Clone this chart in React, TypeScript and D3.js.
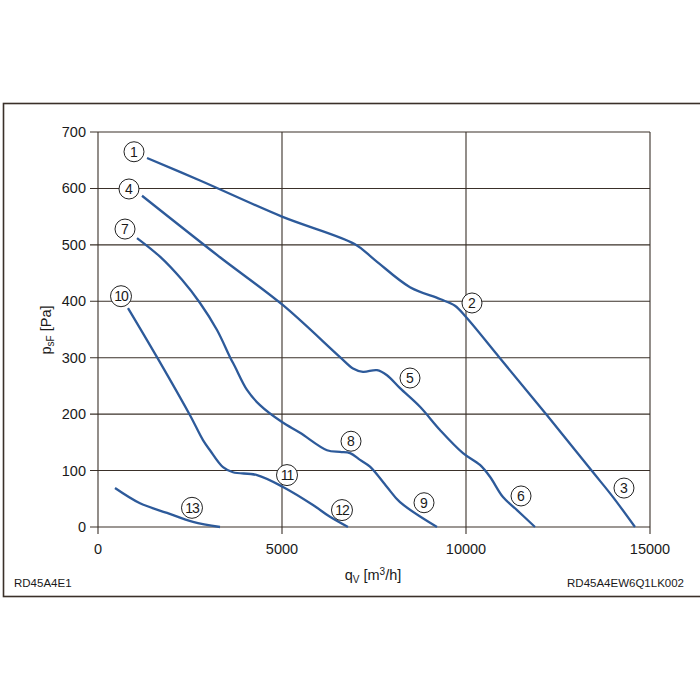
import React from "react";
import * as d3 from "d3";

type Pt = [number, number];

const curveA: Pt[] = [[1332,654],[2772,614],[5000,550],[6984,501],[7527,473],[8478,425],[9293,404],[9700,392],[10000,372],[10924,299],[12201,198],[13451,97],[13995,53],[14592,0]];
const curveB: Pt[] = [[1196,587],[3315,478],[5027,393],[6576,301],[6929,281],[7201,275],[7582,278],[7853,269],[8207,246],[8750,213],[9293,172],[9918,131],[10380,110],[10652,89],[11005,53],[11386,30],[11875,0]];
const curveC: Pt[] = [[1060,512],[1685,479],[2283,438],[2772,397],[3234,349],[3587,301],[3723,284],[4049,243],[4402,216],[5000,186],[5489,167],[6223,136],[6576,133],[6848,131],[7120,119],[7391,107],[7853,71],[8207,44],[9212,0]];
const curveD: Pt[] = [[815,388],[1603,301],[2500,198],[2853,154],[3043,136],[3397,106],[3668,97],[4321,92],[5027,71],[5842,39],[6304,18],[6793,0]];
const curveE: Pt[] = [[462,69],[1141,42],[1875,25],[2582,9],[3315,0]];
const curves = [curveA, curveB, curveC, curveD, curveE];

const labelNames = ["1","4","7","10","2","5","8","11","12","9","6","3","13"];
const labelPos: Pt[] = [[978,665],[842,599],[734,528],[625,409],[10163,397],[8478,264],[6875,152],[5136,92],[6630,30],[8859,43],[11495,55],[14293,69],[2554,34]];

const xTicks = [0, 5000, 10000, 15000];
const yTicks = [0, 100, 200, 300, 400, 500, 600, 700];

export default function App() {
  const x = d3.scaleLinear().domain([0, 15000]).range([98, 650]);
  const y = d3.scaleLinear().domain([0, 700]).range([527, 132]);
  const line = d3.line<Pt>().x(d => x(d[0])).y(d => y(d[1])).curve(d3.curveCatmullRom.alpha(0.5));
  const grid = "#3a3029";
  const font = "Liberation Sans, Arial, sans-serif";
  return (
    <svg width={700} height={700} style={{ position: "absolute", left: 0, top: 0, background: "#fff" }}>
      <rect x={3.5} y={103.5} width={760} height={493} fill="none" stroke="#3a3029" strokeWidth={1.6} />
      {yTicks.map(t => (
        <g key={"y" + t}>
          <line x1={90} x2={650} y1={y(t)} y2={y(t)} stroke={grid} strokeWidth={1.1} />
          <text x={86} y={y(t) + 5} textAnchor="end" fontFamily={font} fontSize={14.5} fill="#1a1a1a">{t}</text>
        </g>
      ))}
      {xTicks.map(t => (
        <g key={"x" + t}>
          <line x1={x(t)} x2={x(t)} y1={132} y2={534} stroke={grid} strokeWidth={1.1} />
          <text x={x(t)} y={554} textAnchor="middle" fontFamily={font} fontSize={14.5} fill="#1a1a1a">{t}</text>
        </g>
      ))}
      {curves.map((c, i) => (
        <path key={"c" + i} d={line(c) || ""} fill="none" stroke="#2d5a9a" strokeWidth={2.3} />
      ))}
      {labelNames.map((n, i) => (
        <g key={"l" + i}>
          <circle cx={x(labelPos[i][0])} cy={y(labelPos[i][1])} r={n.length > 1 ? 10.5 : 10} fill="#fff" stroke="#222" strokeWidth={1} />
          <text x={x(labelPos[i][0])} y={y(labelPos[i][1]) + 5} textAnchor="middle" fontFamily={font} fontSize={14} fill="#1a1a1a" letterSpacing={n.length > 1 ? -1 : 0}>{n}</text>
        </g>
      ))}
      <text transform="translate(51,330) rotate(-90)" textAnchor="middle" fontFamily={font} fontSize={14.5} fill="#1a1a1a">
        p<tspan fontSize={10} dy={3}>sF</tspan><tspan dy={-3}> [Pa]</tspan>
      </text>
      <text x={373} y={580} textAnchor="middle" fontFamily={font} fontSize={14.5} fill="#1a1a1a">
        q<tspan fontSize={10} dy={3}>V</tspan><tspan dy={-3}> [m</tspan><tspan fontSize={10} dy={-5}>3</tspan><tspan dy={5}>/h]</tspan>
      </text>
      <text x={14} y={587} fontFamily={font} fontSize={11.5} fill="#1a1a1a">RD45A4E1</text>
      <text x={684} y={587} textAnchor="end" fontFamily={font} fontSize={11.5} fill="#1a1a1a">RD45A4EW6Q1LK002</text>
    </svg>
  );
}
